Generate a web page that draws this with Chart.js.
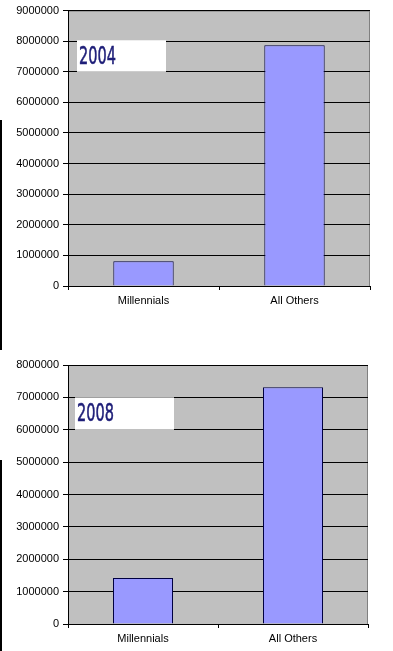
<!DOCTYPE html>
<html>
<head>
<meta charset="utf-8">
<script src="https://cdn.jsdelivr.net/npm/chart.js@4"></script>
<style>
  body { margin: 0; background: #fff; width: 393px; height: 651px; position: relative; overflow: hidden; }
  .box { position: absolute; left: 0; width: 393px; }
  #c1box { top: 0; height: 330px; }
  #c2box { top: 330px; height: 321px; }
  .edge { position: absolute; left: 0; width: 2px; background: #000; }
</style>
</head>
<body>
<div class="box" id="c1box"><canvas id="chart1"></canvas></div>
<div class="box" id="c2box"><canvas id="chart2"></canvas></div>
<div class="edge" style="top:120px;height:230px"></div>
<div class="edge" style="top:460px;height:191px"></div>
<script>
// data
const categories = ['Millennials', 'All Others']
const values2004 = [810000, 7870000]
const values2008 = [1420000, 7310000]
const yMax2004 = 9000000
const yMax2008 = 8000000
const yStep = 1000000

// gray plot area with gray top/right frame
const plotBg = {
  id: 'plotBg',
  beforeDraw(chart) {
    const a = chart.chartArea, c = chart.ctx
    c.save()
    c.fillStyle = '#c0c0c0'
    c.fillRect(a.left, a.top, a.right - a.left, a.bottom - a.top)
    c.strokeStyle = '#808080'
    c.lineWidth = 1
    c.beginPath()
    c.moveTo(a.left, a.top + 0.5)
    c.lineTo(a.right - 0.5, a.top + 0.5)
    c.lineTo(a.right - 0.5, a.bottom)
    c.stroke()
    c.restore()
  }
}

// white year label box
const yearBox = {
  id: 'yearBox',
  afterDatasetsDraw(chart, args, opts) {
    const a = chart.chartArea, c = chart.ctx, y = chart.scales.y
    const top = y.getPixelForValue(opts.from)
    const bot = y.getPixelForValue(opts.to)
    const left = a.left + opts.dx
    c.save()
    c.fillStyle = '#fff'
    c.fillRect(left, top, opts.w, bot - top)
    c.fillStyle = '#1e1e78'
    c.strokeStyle = '#1e1e78'
    c.lineWidth = 0.6
    c.font = '25px "DejaVu Sans"'
    c.textBaseline = 'middle'
    c.translate(left + 2, (top + bot) / 2 + 1)
    c.scale(0.58, 1)
    c.fillText(opts.text, 0, 0)
    c.strokeText(opts.text, 0, 0)
    c.restore()
  }
}

function makeChart(id, values, yMax, padTop, xHeight, rightPad, box) {
  return new Chart(document.getElementById(id), {
    type: 'bar',
    data: {
      labels: categories,
      datasets: [{
        data: values,
        backgroundColor: '#9999ff',
        borderColor: '#000040',
        borderWidth: 1,
        borderSkipped: 'bottom',
        barPercentage: 0.4,
        categoryPercentage: 1
      }]
    },
    options: {
      responsive: true,
      maintainAspectRatio: false,
      animation: false,
      layout: { padding: { top: padTop, right: rightPad, left: 0, bottom: 0 } },
      plugins: {
        legend: { display: false },
        tooltip: { enabled: false },
        yearBox: box
      },
      scales: {
        x: {
          afterFit(s) { s.height = xHeight },
          grid: { drawOnChartArea: false, drawTicks: true, tickLength: 4, tickColor: '#000' },
          border: { color: '#000', width: 1 },
          ticks: { color: '#000', padding: 4, font: { family: 'Liberation Sans', size: 11 } }
        },
        y: {
          min: 0,
          max: yMax,
          afterFit(s) { s.width = 68 },
          grid: { color: '#000', lineWidth: 1, tickLength: 5, tickColor: '#000' },
          border: { color: '#000', width: 1 },
          ticks: {
            stepSize: yStep,
            color: '#000',
            padding: 4,
            font: { family: 'Liberation Sans', size: 11 },
            callback: v => String(v)
          }
        }
      }
    },
    plugins: [plotBg, yearBox]
  })
}

makeChart('chart1', values2004, yMax2004, 8, 44, 23, { text: '2004', from: 8030000, to: 7000000, dx: 9, w: 89 })
makeChart('chart2', values2008, yMax2008, 35, 27, 25, { text: '2008', from: 7000000, to: 6000000, dx: 7, w: 99 })
</script>
</body>
</html>
